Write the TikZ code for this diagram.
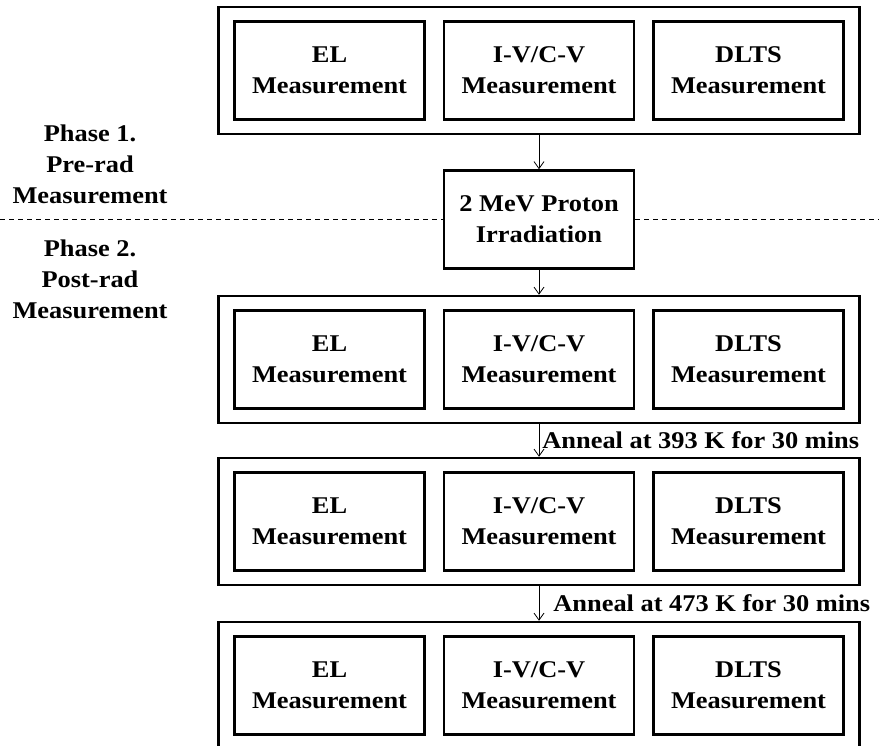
\documentclass[tikz,border=0pt]{standalone}
\usepackage{fontspec}
\setmainfont{Liberation Serif}[FakeStretch=1.1]
\usetikzlibrary{positioning,arrows.meta}

\begin{document}
\begin{tikzpicture}[x=1pt, y=-1pt,
            every node/.style={font=\fontsize{24}{31}\selectfont\bfseries},
            groupbox/.style={draw, line width=2.5pt, minimum width=641pt, minimum height=127pt, inner sep=0pt},
            measbox/.style={draw, line width=2.5pt, minimum width=190pt, minimum height=98pt, align=center, inner sep=0pt},
            phaselabel/.style={align=center, inner sep=0pt},
            flow/.style={line width=0.8pt, -{Straight Barb[length=7pt, width=10pt]}},
            phaseline/.style={line width=0.8pt, dash pattern=on 5pt off 4pt},
        ]
            \fill[white] (0,0) rectangle (879,746);
            \useasboundingbox (0,0) rectangle (879,746);

            %Measurement groups
            \foreach \i/\y in {1/70.5, 2/359.5, 3/521.5, 4/685.5}{
                \node[groupbox](grp\i) at (539,\y) {};
                \node[measbox](iv\i) at (grp\i.center) {I-V/C-V\\Measurement};
                \node[measbox](el\i)[left=17pt of iv\i] {EL\\Measurement};
                \node[measbox](dlts\i)[right=17pt of iv\i] {DLTS\\Measurement};
            }

            %Irradiation
            \node[measbox](proton) at (539,219.5) {2 MeV Proton\\Irradiation};

            %Phases
            \node[phaselabel](phase1) at (90,164) {Phase 1.\\Pre-rad\\Measurement};
            \node[phaselabel](phase2) at (90,279) {Phase 2.\\Post-rad\\Measurement};
            \coordinate (dashleft) at (0,219.5);
            \coordinate (dashright) at (879,219.5);
            \draw[phaseline](dashleft) -- (proton.west);
            \draw[phaseline](proton.east) -- (dashright);

            %Lines
            \draw[flow](grp1.south) -- (proton.north);
            \draw[flow](proton.south) -- (grp2.north);
            \draw[flow](grp2.south) -- node[right, inner sep=3pt]{Anneal at 393 K for 30 mins} (grp3.north);
            \draw[flow](grp3.south) -- node[right, inner sep=3pt, xshift=11pt]{Anneal at 473 K for 30 mins} (grp4.north);
        \end{tikzpicture}
\end{document}
